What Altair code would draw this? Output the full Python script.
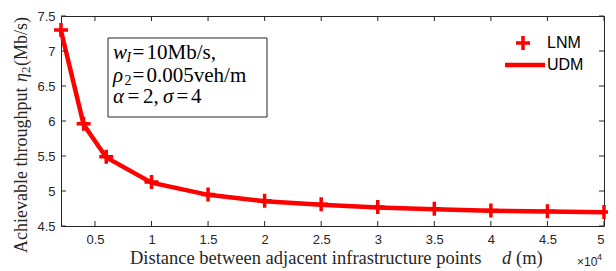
import altair as alt
import pandas as pd

# ---- data ----
d_vals = [2000, 4000, 6000, 10000, 15000, 20000, 25000, 30000, 35000, 40000, 45000, 50000]
lnm = [7.30, 5.96, 5.49, 5.13, 4.95, 4.86, 4.81, 4.77, 4.745, 4.72, 4.71, 4.70]
udm = [7.29, 5.95, 5.48, 5.12, 4.945, 4.855, 4.805, 4.765, 4.74, 4.718, 4.708, 4.698]
x_ticks = [5000, 10000, 15000, 20000, 25000, 30000, 35000, 40000, 45000, 50000]
y_ticks = [4.5, 5, 5.5, 6, 6.5, 7, 7.5]

W, H = 543, 210
AX = "#262626"
RED = "#ff0000"

xs = alt.Scale(domain=[2000, 50000], nice=False, zero=False)
ys = alt.Scale(domain=[4.5, 7.5], nice=False, zero=False)

x_axis = alt.Axis(values=x_ticks, labelExpr="'' + datum.value / 10000", ticks=False,
                  domain=False, grid=False, labelFont="Liberation Sans", labelFontSize=13,
                  labelColor=AX, labelPadding=7, title=None)
y_axis = alt.Axis(values=y_ticks, labelExpr="'' + datum.value", ticks=False, domain=False,
                  grid=False, labelFont="Liberation Sans", labelFontSize=13, labelColor=AX,
                  labelPadding=6, title=None)

df = pd.DataFrame({"d": d_vals, "lnm": lnm, "udm": udm})
xt = pd.DataFrame({"t": x_ticks})
yt = pd.DataFrame({"t": y_ticks})
one = pd.DataFrame({"a": [0]})

line = alt.Chart(df).mark_line(color=RED, strokeWidth=4.5).encode(
    x=alt.X("d:Q", scale=xs, axis=x_axis),
    y=alt.Y("udm:Q", scale=ys, axis=y_axis),
)
PLUS = "M-1,0L1,0M0,-1L0,1"
points = alt.Chart(df).mark_point(shape=PLUS, size=196, strokeWidth=3.5, color=RED,
                                  filled=False, opacity=1).encode(
    x=alt.X("d:Q", scale=xs, axis=x_axis),
    y=alt.Y("lnm:Q", scale=ys, axis=y_axis),
)

def rule_x(y0, y1):
    return alt.Chart(xt).mark_rule(color=AX, strokeWidth=1).encode(
        x=alt.X("t:Q", scale=xs, axis=x_axis), y=alt.value(y0), y2=alt.value(y1))

def rule_y(x0, x1):
    return alt.Chart(yt).mark_rule(color=AX, strokeWidth=1).encode(
        y=alt.Y("t:Q", scale=ys, axis=y_axis), x=alt.value(x0), x2=alt.value(x1))

ticks = [rule_x(H, H - 5), rule_x(0, 5), rule_y(0, 5), rule_y(W, W - 5)]

def txt(s, x, y, size, font="Liberation Serif", style="normal", align="left",
        baseline="alphabetic", angle=0, color="black"):
    return alt.Chart(one).mark_text(text=s, font=font, fontSize=size, fontStyle=style,
                                    align=align, baseline=baseline, angle=angle,
                                    color=color).encode(x=alt.value(x), y=alt.value(y))

box = alt.Chart(one).mark_rect(fill="white", stroke=AX, strokeWidth=1).encode(
    x=alt.value(47), x2=alt.value(206), y=alt.value(22), y2=alt.value(101))

FS = 21
SS = 14
L1, L2, L3 = 43, 66, 86.5
box_text = [
    txt("w", 52, L1, FS, style="italic"),
    txt("I", 65.5, L1 + 3, SS, style="italic"),
    txt("=", 77.5, L1, FS, align="center"),
    txt("10Mb/s,", 85.5, L1, FS),
    txt("ρ", 52, L2, FS, style="italic"),
    txt("2", 63.5, L2 + 3, SS),
    txt("=", 77.5, L2, FS, align="center"),
    txt("0.005veh/m", 85.5, L2, FS),
    txt("α", 52, L3, FS, style="italic"),
    txt("=", 72.5, L3, FS, align="center"),
    txt("2,", 82, L3, FS),
    txt("σ", 102, L3, FS, style="italic"),
    txt("=", 121.5, L3, FS, align="center"),
    txt("4", 130, L3, FS),
]

legend = [
    alt.Chart(one).mark_point(shape=PLUS, size=196, strokeWidth=3.5, color=RED,
                              filled=False, opacity=1).encode(x=alt.value(462), y=alt.value(27)),
    alt.Chart(one).mark_rule(color=RED, strokeWidth=4.5).encode(
        x=alt.value(444), x2=alt.value(484), y=alt.value(49)),
    txt("LNM", 486, 27, 16, font="Liberation Sans", baseline="middle"),
    txt("UDM", 486, 49, 16, font="Liberation Sans", baseline="middle"),
]

XT = 248
titles = [
    txt("Distance between adjacent infrastructure points", 69, XT, 18.5, color=AX),
    txt("d", 441, XT, 18.5, style="italic", color=AX),
    txt("(m)", 455, XT, 18.5, color=AX),
    txt("×10", 516, XT + 2, 12, font="Liberation Sans", color=AX),
    txt("4", 536, XT - 4, 9, font="Liberation Sans", color=AX),
    txt("Achievable throughput", -39, 237, 18, angle=270, baseline="middle", color=AX),
    txt("η", -39, 66, 18, angle=270, baseline="middle", style="italic", color=AX),
    txt("2", -35, 57, 13, angle=270, baseline="middle", color=AX),
    txt("(Mb/s)", -39, 50, 18, angle=270, baseline="middle", color=AX),
]

chart = alt.layer(line, points, *ticks, box, *box_text, *legend, *titles).properties(
    width=W, height=H,
    autosize=alt.AutoSizeParams(type="none"),
    padding={"left": 53, "top": 8, "right": 4, "bottom": 45},
).configure_view(stroke=AX, strokeWidth=1)

chart.save("out.html", embed_options={"renderer": "svg", "actions": False})
